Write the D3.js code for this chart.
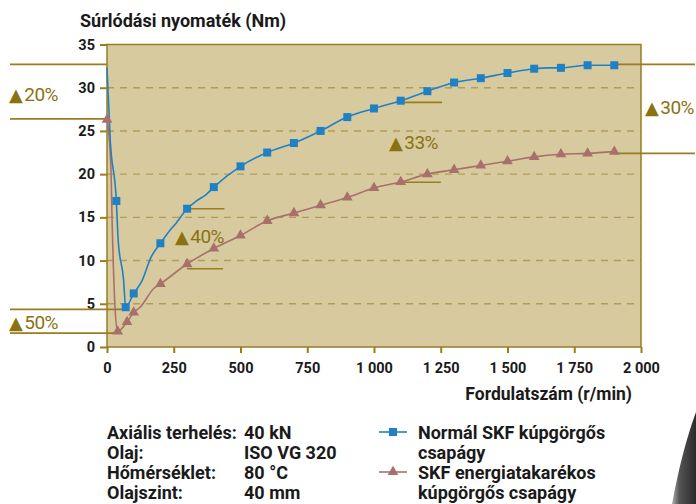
<!DOCTYPE html>
<html><head><meta charset="utf-8">
<script src="https://cdn.jsdelivr.net/npm/d3@7"></script>
<style>
body{margin:0;background:#fff;}
svg{display:block;font-family:Roboto,"Noto Sans",sans-serif;}
</style></head>
<body><svg id="c" width="696" height="504"></svg>
<script>
// ---- data ----
const yTicks = [0, 5, 10, 15, 20, 25, 30, 35];
const xTicks = [0, 250, 500, 750, 1000, 1250, 1500, 1750, 2000];
const xTickLabels = ["0", "250", "500", "750", "1 000", "1 250", "1 500", "1 750", "2 000"];

// Normal SKF tapered roller bearing (squares)
const blueMarkerX = [35, 70, 100, 200, 300, 400, 500, 600, 700, 800, 900, 1000, 1100, 1200, 1300, 1400, 1500, 1600, 1700, 1800, 1900];
const blueMarkerY = [16.9, 4.6, 6.2, 12.0, 16.0, 18.5, 20.9, 22.5, 23.6, 25.0, 26.6, 27.6, 28.5, 29.6, 30.6, 31.1, 31.7, 32.2, 32.3, 32.6, 32.6];
const blueLineX = [0, 12, 35, 42, 62, 70, 100, 130, 165, 200, 228, 258, 300, 335, 370, 400, 500, 600, 700, 800, 900, 1000, 1100, 1200, 1300, 1400, 1500, 1600, 1650, 1700, 1800, 1900];
const blueLineY = [32.3, 24.0, 16.9, 12.3, 7.8, 4.6, 6.2, 7.6, 10.4, 12.0, 13.2, 14.3, 16.0, 16.9, 17.6, 18.5, 20.9, 22.5, 23.6, 25.0, 26.6, 27.6, 28.5, 29.6, 30.6, 31.1, 31.7, 32.2, 32.3, 32.3, 32.6, 32.6];

// SKF energy efficient tapered roller bearing (triangles)
const brownMarkerX = [0, 40, 75, 100, 200, 300, 400, 500, 600, 700, 800, 900, 1000, 1100, 1200, 1300, 1400, 1500, 1600, 1700, 1800, 1900];
const brownMarkerY = [26.3, 1.8, 2.9, 4.0, 7.3, 9.6, 11.4, 12.9, 14.6, 15.5, 16.4, 17.3, 18.4, 19.1, 20.0, 20.5, 21.0, 21.5, 22.0, 22.3, 22.4, 22.6];
const brownLineX = [0, 14, 20, 30, 40, 75, 100, 124, 176, 200, 300, 400, 500, 600, 700, 800, 900, 1000, 1100, 1200, 1300, 1400, 1500, 1600, 1700, 1800, 1900];
const brownLineY = [26.3, 21.3, 13.5, 4.6, 1.8, 2.9, 4.0, 4.6, 6.8, 7.3, 9.6, 11.4, 12.9, 14.6, 15.5, 16.4, 17.3, 18.4, 19.1, 20.0, 20.5, 21.0, 21.5, 22.0, 22.3, 22.4, 22.6];

// reduction annotations
const annotLabels = ["20%", "50%", "40%", "33%", "30%"];

const legendLabels = [["Normál SKF kúpgörgős", "csapágy"], ["SKF energiatakarékos", "kúpgörgős csapágy"]];
const condLabels = ["Axiális terhelés:", "Olaj:", "Hőmérséklet:", "Olajszint:"];
const condValues = ["40 kN", "ISO VG 320", "80 °C", "40 mm"];

// ---- drawing ----
const BLUE = "#1f80c4", BROWN = "#a8706a", OLIVE = "#9a7d1e", OLIVE_T = "#8a7210", BG = "#d7ca9f", GRID = "#b29c57";
const svg = d3.select("#c");
svg.append("rect").attr("width", 696).attr("height", 504).attr("fill", "#fff");

const x = d3.scaleLinear().domain([0, 2000]).range([107, 641]);
const y = d3.scaleLinear().domain([0, 35]).range([347, 44.5]);

// decorative photo fragment bottom right
const grad = svg.append("defs").append("linearGradient").attr("id", "g").attr("x1", 0).attr("x2", 1).attr("y1", 0).attr("y2", 0);
grad.append("stop").attr("offset", 0).attr("stop-color", "#b0b0b0");
grad.append("stop").attr("offset", 0.3).attr("stop-color", "#555");
grad.append("stop").attr("offset", 1).attr("stop-color", "#2a2a2a");
svg.append("path").attr("d", "M696,412 Q682,450 672,504 L696,504 Z").attr("fill", "url(#g)");

svg.append("rect").attr("x", x(0)).attr("y", y(35)).attr("width", x(2000) - x(0)).attr("height", y(0) - y(35)).attr("fill", BG);

// grid
svg.append("g").selectAll("line").data(yTicks.filter(d => d > 0 && d < 35)).join("line")
  .attr("x1", x(0)).attr("x2", x(2000)).attr("y1", d => y(d)).attr("y2", d => y(d))
  .attr("stroke", GRID).attr("stroke-width", 1.4).attr("stroke-dasharray", "7,6");

// frame
svg.append("rect").attr("x", x(0)).attr("y", y(35)).attr("width", x(2000) - x(0)).attr("height", y(0) - y(35))
  .attr("fill", "none").attr("stroke", OLIVE).attr("stroke-width", 1.5);

// axes
const yAxis = svg.append("g").attr("transform", `translate(${x(0)},0)`)
  .call(d3.axisLeft(y).tickValues(yTicks).tickSize(7).tickPadding(5));
const xAxis = svg.append("g").attr("transform", `translate(0,${y(0)})`)
  .call(d3.axisBottom(x).tickValues(xTicks).tickFormat((d, i) => xTickLabels[i]).tickSize(6).tickPadding(10));
[yAxis, xAxis].forEach(a => {
  a.select(".domain").remove();
  a.selectAll("line").attr("stroke", OLIVE).attr("stroke-width", 2);
  a.selectAll("text").attr("font-family", "Roboto, sans-serif").attr("font-size", 14.5).attr("font-weight", "bold").attr("fill", "#1a1a1a");
});

// titles
svg.append("text").attr("x", 80).attr("y", 27).attr("font-size", 18).attr("font-weight", "bold").attr("fill", "#1a1a1a").text("Súrlódási nyomaték (Nm)");
svg.append("text").attr("x", 632).attr("y", 400).attr("text-anchor", "end").attr("font-size", 17.5).attr("font-weight", "bold").attr("fill", "#1a1a1a").text("Fordulatszám (r/min)");

// annotation lines
const annotLines = [
  [10, y(32.7), x(0), y(32.7)],
  [10, y(26.4), x(0), y(26.4)],
  [10, y(4.35), x(70), y(4.35)],
  [10, y(1.6), x(40), y(1.6)],
  [x(300), y(16.0), x(440), y(16.0)],
  [x(300), y(9.05), x(435), y(9.05)],
  [x(1100), y(28.3), x(1255), y(28.3)],
  [x(1100), y(19.07), x(1250), y(19.07)],
  [x(1900), y(32.7), 695, y(32.7)],
  [x(1900), y(22.4), 695, y(22.4)]
];
svg.append("g").selectAll("line").data(annotLines).join("line")
  .attr("x1", d => d[0]).attr("y1", d => d[1]).attr("x2", d => d[2]).attr("y2", d => d[3])
  .attr("stroke", OLIVE).attr("stroke-width", 1.6);

const annotPos = [[9, 101], [9, 329], [175, 243], [389, 149], [645, 114]];
const at = svg.append("g").selectAll("text").data(annotLabels).join("text")
  .attr("x", (d, i) => annotPos[i][0]).attr("y", (d, i) => annotPos[i][1])
  .attr("fill", OLIVE_T).attr("font-size", 19).attr("letter-spacing", -0.6);
at.append("tspan").attr("font-size", 18).attr("letter-spacing", 0).attr("font-family", "DejaVu Sans, sans-serif").text("▲");
at.append("tspan").attr("dx", 1.5).text(d => d);

// lines
const line = d3.line().curve(d3.curveMonotoneX);
svg.append("path").attr("d", line(brownLineX.map((v, i) => [x(v), y(brownLineY[i])])))
  .attr("fill", "none").attr("stroke", BROWN).attr("stroke-width", 1.6);
svg.append("path").attr("d", line(blueLineX.map((v, i) => [x(v), y(blueLineY[i])])))
  .attr("fill", "none").attr("stroke", BLUE).attr("stroke-width", 1.6);

const tri = d3.symbol().type(d3.symbolTriangle).size(50)();
svg.append("g").selectAll("path").data(brownMarkerX).join("path")
  .attr("d", tri).attr("transform", (d, i) => `translate(${x(d)},${y(brownMarkerY[i])})`).attr("fill", BROWN);
svg.append("g").selectAll("rect").data(blueMarkerX).join("rect")
  .attr("x", (d) => x(d) - 4).attr("y", (d, i) => y(blueMarkerY[i]) - 4).attr("width", 8).attr("height", 8).attr("fill", BLUE);

// conditions text
const cond = svg.append("g").attr("font-size", 18).attr("font-weight", "bold").attr("fill", "#1a1a1a");
condLabels.forEach((t, i) => {
  cond.append("text").attr("x", 107).attr("y", 439 + i * 20).text(t);
  cond.append("text").attr("x", 244).attr("y", 439 + i * 20).text(condValues[i]);
});

// legend
const lg = svg.append("g");
const legY = [432, 472];
lg.append("line").attr("x1", 379).attr("x2", 407).attr("y1", legY[0]).attr("y2", legY[0]).attr("stroke", BLUE).attr("stroke-width", 1.6);
lg.append("rect").attr("x", 389).attr("y", legY[0] - 4).attr("width", 8).attr("height", 8).attr("fill", BLUE);
lg.append("line").attr("x1", 379).attr("x2", 407).attr("y1", legY[1]).attr("y2", legY[1]).attr("stroke", BROWN).attr("stroke-width", 1.6);
lg.append("path").attr("d", tri).attr("transform", `translate(393,${legY[1]})`).attr("fill", BROWN);
legendLabels.forEach((pair, i) => {
  pair.forEach((t, j) => {
    lg.append("text").attr("x", 418).attr("y", 439 + i * 40 + j * 20).attr("font-size", 18).attr("font-weight", "bold").attr("fill", "#1a1a1a").text(t);
  });
});
</script></body></html>
